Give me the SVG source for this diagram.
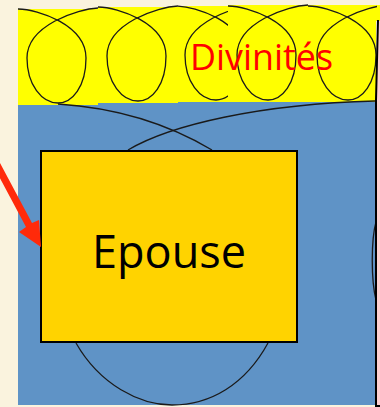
<svg xmlns="http://www.w3.org/2000/svg" width="380" height="407" viewBox="0 0 380 407">
<style>
.loop{fill:none;stroke:#1a1a1a;stroke-width:1.3}
.lbl{font-family:"Open Sans","Liberation Sans",sans-serif}
</style>
<defs>
<clipPath id="c1"><rect x="18" y="0" width="80" height="106"/></clipPath>
<clipPath id="c2"><rect x="98" y="0" width="80" height="106"/></clipPath>
<clipPath id="c3"><rect x="178" y="0" width="50" height="106"/></clipPath>
<clipPath id="c4"><rect x="228" y="0" width="149" height="106"/></clipPath>
<path id="lp" d="M-40,9 C-20,9 28,25 28,58 C28,87 14,103 0,103 C-16,103 -31,85 -31,58 C-31,25 20,9 40,8"/>
</defs>
<rect width="380" height="407" fill="#FAF3DE"/>
<rect x="377" y="18" width="3" height="389" fill="#FFD0D0"/>
<rect x="18" y="100" width="358" height="305" fill="#5F93C6"/>
<g id="yellow-strip">
<rect x="18" y="9" width="80" height="96" fill="#FFFF00"/>
<rect x="98" y="7" width="80" height="96" fill="#FFFF00"/>
<rect x="178" y="6" width="50" height="96" fill="#FFFF00"/>
<rect x="228" y="5" width="148" height="97" fill="#FFFF00"/>
<rect x="376" y="5" width="4" height="16" fill="#FFFF00"/>
<g clip-path="url(#c1)"><use href="#lp" class="loop" transform="translate(58,0)"/></g>
<g clip-path="url(#c2)"><use href="#lp" class="loop" transform="translate(138,-2)"/></g>
<g clip-path="url(#c3)"><use href="#lp" class="loop" transform="translate(216,-3)"/></g>
<g clip-path="url(#c4)"><use href="#lp" class="loop" transform="translate(268,-3)"/><use href="#lp" class="loop" transform="translate(348,-3)"/></g>
</g>
<path class="loop" d="M58,104 C120,108 170,125 212,150"/>
<path class="loop" d="M128,150 C170,125 260,104 375,101"/>
<path class="loop" d="M76,343 C100,385 140,405 172,405 C210,405 245,385 268,343"/>
<path class="loop" d="M376,222 C371,240 371,280 376,300"/>
<path d="M378,20 L376,100 L376,406 L380,406" fill="none" stroke="#000" stroke-width="2"/>
<g id="divinites">
<text class="lbl" x="190" y="70" font-size="37" fill="#FF0000" textLength="143" lengthAdjust="spacingAndGlyphs">Divinités</text>
</g>
<g id="epouse">
<rect x="41" y="151" width="256" height="191" fill="#FFD300" stroke="#000" stroke-width="2"/>
<text class="lbl" x="169" y="268" font-size="45" fill="#000" text-anchor="middle" textLength="154" lengthAdjust="spacingAndGlyphs">Epouse</text>
</g>
<g id="connectors">
<path d="M0,163 L32,223 L39,220 L41,247 L19,232 L26,227 L-6,167 Z" fill="#FF2A0A"/>
</g>
</svg>
